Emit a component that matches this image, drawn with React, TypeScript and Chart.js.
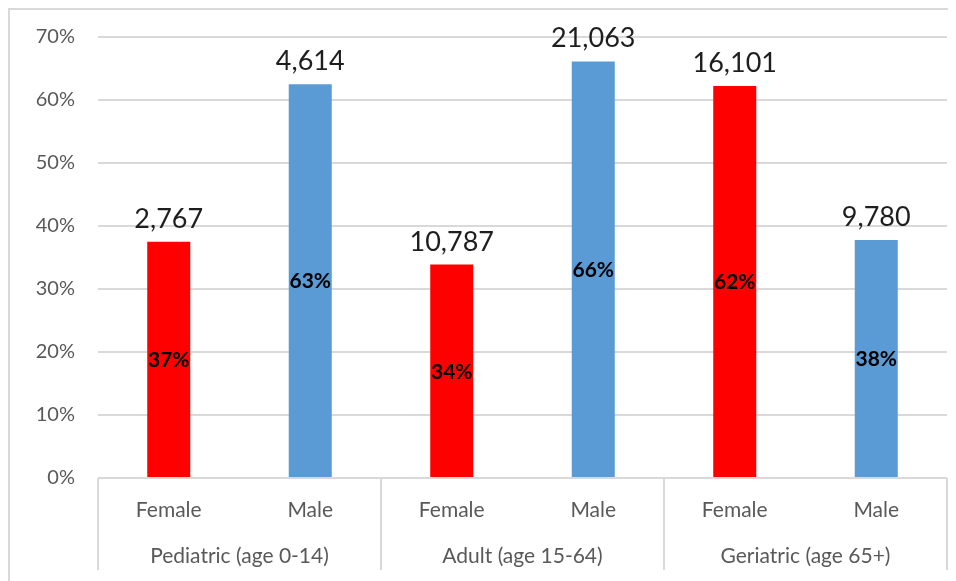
import React, { useEffect, useRef } from "react";
import { Chart, registerables } from "chart.js";

Chart.register(...registerables);

// Age groups and the two sexes inside each group
const groups = ["Pediatric (age 0-14)", "Adult (age 15-64)", "Geriatric (age 65+)"];
const sexes = ["Female", "Male"];

// Patient counts per bar (Female, Male for each group)
const counts = [2767, 4614, 10787, 21063, 16101, 9780];

// Share of the group, in percent
const shares = [37.49, 62.51, 33.87, 66.13, 62.21, 37.79];

// Y axis ticks
const yTicks = [0, 10, 20, 30, 40, 50, 60, 70];

const sexColors = ["#FF0000", "#5B9BD5"];

const FONT = "Lato, 'Open Sans', sans-serif";

const labels = groups.flatMap(() => sexes);
const barColors = labels.map((s) => sexColors[sexes.indexOf(s)]);

const valueLabels = {
  id: "valueLabels",
  afterDatasetsDraw(chart: any) {
    const ctx = chart.ctx;
    const meta = chart.getDatasetMeta(0);
    ctx.save();
    ctx.textAlign = "center";
    meta.data.forEach((bar: any, i: number) => {
      // count above the bar
      ctx.font = `27px ${FONT}`;
      ctx.fillStyle = "#1e1e1e";
      ctx.textBaseline = "alphabetic";
      ctx.fillText(counts[i].toLocaleString("en-US"), bar.x, bar.y - 14);
      // share in the middle of the bar
      ctx.font = `bold 21px ${FONT}`;
      ctx.fillStyle = "#000000";
      ctx.textBaseline = "middle";
      ctx.fillText(`${Math.round(shares[i])}%`, bar.x, (bar.y + bar.base) / 2 + 1);
    });
    ctx.restore();
  },
};

const groupAxis = {
  id: "groupAxis",
  afterDraw(chart: any) {
    const ctx = chart.ctx;
    const x = chart.scales.x;
    const half = (x.getPixelForValue(1) - x.getPixelForValue(0)) / 2;
    const top = chart.chartArea.bottom;
    const bottom = top + 92;
    ctx.save();
    ctx.strokeStyle = "#d9d9d9";
    ctx.lineWidth = 2;
    const edges: number[] = [];
    groups.forEach((_, g) => {
      edges.push(x.getPixelForValue(g * sexes.length) - half);
    });
    edges.push(x.getPixelForValue(labels.length - 1) + half);
    edges.forEach((px) => {
      const p = Math.round(px);
      ctx.beginPath();
      ctx.moveTo(p, top);
      ctx.lineTo(p, bottom);
      ctx.stroke();
    });
    ctx.font = `21px ${FONT}`;
    ctx.fillStyle = "#595959";
    ctx.textAlign = "center";
    ctx.textBaseline = "middle";
    groups.forEach((name, g) => {
      const cx = (edges[g] + edges[g + 1]) / 2;
      ctx.fillText(name, cx, top + 78);
    });
    ctx.restore();
  },
};

export default function App() {
  const canvasRef = useRef<HTMLCanvasElement>(null);

  useEffect(() => {
    if (!canvasRef.current) return;
    const chart = new Chart(canvasRef.current, {
      type: "bar",
      data: {
        labels,
        datasets: [
          {
            data: shares,
            backgroundColor: barColors,
            borderWidth: 0,
            barPercentage: 0.304,
            categoryPercentage: 1,
          },
        ],
      },
      options: {
        responsive: false,
        animation: false,
        devicePixelRatio: 1,
        layout: { padding: { top: 29, right: 9, left: 0, bottom: 0 } },
        plugins: {
          legend: { display: false },
          tooltip: { enabled: false },
        },
        scales: {
          x: {
            grid: { display: false, drawTicks: false },
            border: { display: false },
            ticks: {
              color: "#595959",
              font: { family: FONT, size: 21 },
              padding: 20,
            },
            afterFit(scale: any) {
              scale.height = 103;
            },
          },
          y: {
            min: 0,
            max: 70,
            afterBuildTicks(scale: any) {
              scale.ticks = yTicks.map((v) => ({ value: v }));
            },
            grid: { color: "#d9d9d9", lineWidth: 2, drawTicks: false },
            border: { display: false },
            ticks: {
              color: "#595959",
              font: { family: FONT, size: 20 },
              padding: 23,
              callback: (v: any) => `${v}%`,
            },
            afterFit(scale: any) {
              scale.width = 90;
              scale.paddingTop = 0;
              scale.paddingBottom = 0;
            },
          },
        },
      },
      plugins: [valueLabels, groupAxis],
    });
    return () => chart.destroy();
  }, []);

  return (
    <div style={{ position: "relative", width: 948, height: 573 }}>
      <div
        style={{
          position: "absolute",
          left: 0,
          top: 0,
          right: 0,
          bottom: 0,
          borderTop: "2px solid #d9d9d9",
          borderLeft: "2px solid #d9d9d9",
        }}
      />
      <canvas
        ref={canvasRef}
        width={948}
        height={573}
        style={{ position: "absolute", left: 0, top: 0, display: "block" }}
      />
    </div>
  );
}
